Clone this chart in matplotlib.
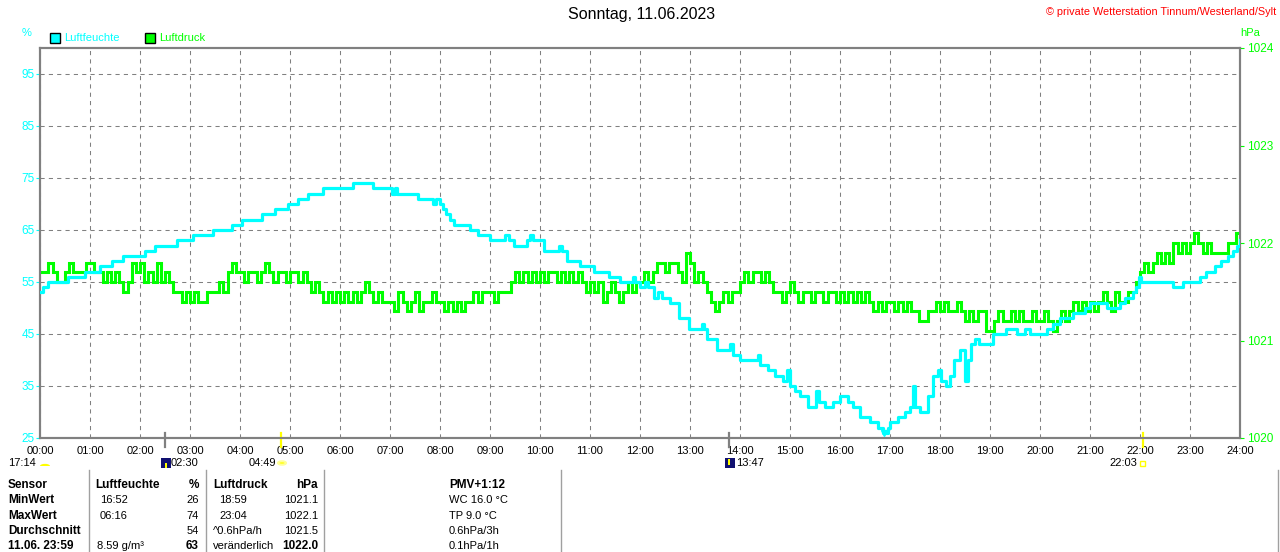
import matplotlib
matplotlib.use('Agg')
import matplotlib.pyplot as plt
from matplotlib.patches import Rectangle, Circle, Wedge
from matplotlib.lines import Line2D

plt.rcParams['font.family'] = ['Liberation Sans', 'DejaVu Sans']

# ---------------- data ----------------
title = 'Sonntag, 11.06.2023'
copyright_text = '© private Wetterstation Tinnum/Westerland/Sylt'
x_labels = ['%02d:00' % h for h in range(25)]
hum_ticks = [25, 35, 45, 55, 65, 75, 85, 95]
press_ticks = [1020, 1021, 1022, 1023, 1024]

# humidity (%) : change points (hour, value)
hum_t = [0.00, 0.05, 0.15, 0.56, 0.90, 1.20, 1.44, 1.66, 2.10, 2.30, 2.74, 3.06,
         3.46, 3.84, 4.04, 4.44, 4.70, 4.96, 5.16, 5.36, 5.66, 6.26, 6.66, 7.04,
         7.10, 7.14, 7.56, 7.86, 7.92, 8.00, 8.06, 8.12, 8.20, 8.27, 8.60, 8.75,
         9.00, 9.30, 9.38, 9.47, 9.74, 9.80, 9.86, 10.07, 10.38, 10.44, 10.53, 10.80,
         11.07, 11.38, 11.60, 11.85, 11.90, 12.00, 12.10, 12.16, 12.27, 12.36, 12.44, 12.60,
         12.77, 12.97, 13.24, 13.28, 13.33, 13.53, 13.80, 13.85, 14.00, 14.36, 14.40, 14.55,
         14.70, 14.85, 14.93, 15.00, 15.10, 15.20, 15.35, 15.52, 15.58, 15.70, 15.85, 16.00,
         16.16, 16.26, 16.40, 16.60, 16.76, 16.86, 16.96, 17.00, 17.16, 17.30, 17.40, 17.46,
         17.50, 17.60, 17.76, 17.86, 17.96, 18.02, 18.12, 18.20, 18.27, 18.40, 18.50, 18.56,
         18.62, 18.70, 18.78, 19.06, 19.33, 19.53, 19.70, 19.80, 20.13, 20.25, 20.40, 20.66,
         20.90, 21.00, 21.33, 21.60, 21.70, 21.86, 21.92, 21.97, 22.02, 22.66, 22.86, 23.20,
         23.32, 23.50, 23.62, 23.76, 23.86, 23.94, 24.00]
hum_v = [53, 54, 55, 56, 57, 58, 59, 60, 61, 62, 63, 64,
         65, 66, 67, 68, 69, 70, 71, 72, 73, 74, 73, 72,
         73, 72, 71, 70, 71, 70, 69, 68, 67, 66, 65, 64,
         63, 64, 63, 62, 63, 64, 63, 61, 62, 61, 59, 58,
         57, 56, 55, 56, 55, 54, 55, 54, 52, 53, 52, 51,
         48, 46, 47, 46, 44, 42, 43, 41, 40, 41, 39, 38,
         37, 36, 38, 35, 34, 33, 31, 34, 32, 31, 32, 33,
         32, 31, 29, 28, 27, 26, 27, 28, 29, 30, 31, 35,
         31, 30, 33, 37, 38, 36, 35, 37, 40, 42, 36, 40,
         43, 44, 43, 45, 46, 45, 46, 45, 46, 47, 48, 49,
         50, 51, 50, 51, 52, 53, 54, 56, 55, 54, 55, 56,
         57, 58, 59, 60, 61, 62, 63]

# air pressure (hPa), one row per hour, values every 5 minutes
press_rows = [
    [1021.7, 1021.7, 1021.8, 1021.7, 1021.6, 1021.6, 1021.7, 1021.8, 1021.7, 1021.7, 1021.7, 1021.8],
    [1021.8, 1021.7, 1021.7, 1021.6, 1021.7, 1021.6, 1021.7, 1021.6, 1021.5, 1021.6, 1021.8, 1021.7],
    [1021.8, 1021.6, 1021.7, 1021.6, 1021.8, 1021.6, 1021.7, 1021.6, 1021.5, 1021.5, 1021.4, 1021.5],
    [1021.4, 1021.5, 1021.4, 1021.4, 1021.5, 1021.5, 1021.5, 1021.6, 1021.5, 1021.7, 1021.8, 1021.7],
    [1021.7, 1021.6, 1021.7, 1021.7, 1021.6, 1021.7, 1021.8, 1021.7, 1021.6, 1021.7, 1021.7, 1021.6],
    [1021.7, 1021.7, 1021.6, 1021.7, 1021.6, 1021.5, 1021.6, 1021.5, 1021.4, 1021.5, 1021.4, 1021.5],
    [1021.4, 1021.5, 1021.4, 1021.5, 1021.4, 1021.5, 1021.6, 1021.5, 1021.4, 1021.5, 1021.4, 1021.4],
    [1021.4, 1021.3, 1021.5, 1021.4, 1021.3, 1021.4, 1021.5, 1021.3, 1021.4, 1021.4, 1021.5, 1021.4],
    [1021.4, 1021.3, 1021.4, 1021.3, 1021.4, 1021.3, 1021.4, 1021.4, 1021.5, 1021.4, 1021.5, 1021.5],
    [1021.5, 1021.4, 1021.5, 1021.5, 1021.5, 1021.6, 1021.7, 1021.6, 1021.7, 1021.6, 1021.7, 1021.6],
    [1021.7, 1021.6, 1021.7, 1021.7, 1021.6, 1021.7, 1021.6, 1021.7, 1021.6, 1021.7, 1021.6, 1021.5],
    [1021.6, 1021.5, 1021.6, 1021.4, 1021.5, 1021.6, 1021.5, 1021.4, 1021.5, 1021.6, 1021.5, 1021.6],
    [1021.6, 1021.7, 1021.6, 1021.7, 1021.8, 1021.8, 1021.7, 1021.8, 1021.8, 1021.7, 1021.6, 1021.9],
    [1021.8, 1021.6, 1021.7, 1021.6, 1021.5, 1021.4, 1021.3, 1021.4, 1021.5, 1021.4, 1021.5, 1021.5],
    [1021.6, 1021.7, 1021.6, 1021.7, 1021.7, 1021.6, 1021.7, 1021.6, 1021.5, 1021.5, 1021.4, 1021.5],
    [1021.6, 1021.5, 1021.4, 1021.5, 1021.5, 1021.4, 1021.5, 1021.5, 1021.4, 1021.5, 1021.5, 1021.4],
    [1021.5, 1021.4, 1021.5, 1021.4, 1021.5, 1021.4, 1021.5, 1021.4, 1021.3, 1021.4, 1021.3, 1021.4],
    [1021.4, 1021.3, 1021.4, 1021.3, 1021.4, 1021.3, 1021.3, 1021.2, 1021.2, 1021.3, 1021.3, 1021.4],
    [1021.3, 1021.4, 1021.3, 1021.3, 1021.4, 1021.3, 1021.2, 1021.3, 1021.2, 1021.3, 1021.3, 1021.1],
    [1021.1, 1021.2, 1021.3, 1021.2, 1021.2, 1021.3, 1021.2, 1021.3, 1021.2, 1021.2, 1021.3, 1021.2],
    [1021.2, 1021.3, 1021.2, 1021.1, 1021.2, 1021.3, 1021.2, 1021.3, 1021.4, 1021.3, 1021.4, 1021.3],
    [1021.4, 1021.3, 1021.4, 1021.5, 1021.4, 1021.3, 1021.5, 1021.4, 1021.4, 1021.5, 1021.5, 1021.6],
    [1021.7, 1021.8, 1021.7, 1021.8, 1021.9, 1021.8, 1021.9, 1021.8, 1022.0, 1021.9, 1022.0, 1021.9],
    [1022.0, 1022.1, 1022.0, 1021.9, 1022.0, 1021.9, 1021.9, 1021.9, 1021.9, 1022.0, 1022.0, 1022.1],
]
press_last = 1022.0

# table below the chart
table_header = ['Sensor', 'Luftfeuchte', '%', 'Luftdruck', 'hPa', 'PMV+1:12']
table_rows = [
    ['MinWert', '16:52', '26', '18:59', '1021.1', 'WC 16.0 °C'],
    ['MaxWert', '06:16', '74', '23:04', '1022.1', 'TP 9.0 °C'],
    ['Durchschnitt', '', '54', '^0.6hPa/h', '1021.5', '0.6hPa/3h'],
    ['11.06. 23:59', '8.59 g/m³', '63', 'veränderlich', '1022.0', '0.1hPa/1h'],
]
astro_labels = ['17:14', '02:30', '04:49', '13:47', '22:03']

# ---------------- figure ----------------
W, H = 1280, 552
CYAN = '#00FFFF'
GREEN = '#00FF00'
GRAY = '#808080'


def fx(x):
    return x / W


def fy(y):
    return 1 - y / H


fig = plt.figure(figsize=(12.8, 5.52), dpi=100)
fig.patch.set_facecolor('white')

ax = fig.add_axes([fx(40), fy(438), 1200 / W, 390 / H])
ax.set_xlim(0, 24)
ax.set_ylim(25, 100)
ax.set_xticks(range(25))
ax.set_xticklabels(x_labels, fontsize=8)
ax.set_yticks(hum_ticks)
ax.set_yticklabels([str(v) for v in hum_ticks], fontsize=8.5, color=CYAN)
ax.grid(True, color=GRAY, lw=0.75, ls=(0, (4, 4)))
ax.tick_params(axis='x', length=0, pad=6, colors='black')
ax.tick_params(axis='y', length=3, width=0.8, pad=1, color=CYAN, labelcolor=CYAN)
for s in ax.spines.values():
    s.set_color(GRAY)
    s.set_linewidth(1.5)

ax2 = ax.twinx()
ax2.set_ylim(1020, 1024)
ax2.set_yticks(press_ticks)
ax2.set_yticklabels([str(v) for v in press_ticks], fontsize=8.5, color=GREEN)
ax2.tick_params(axis='y', length=3, width=0.8, pad=2, color=GREEN, labelcolor=GREEN)
for s in ax2.spines.values():
    s.set_color(GRAY)
    s.set_linewidth(1.5)

press_vals = [v for row in press_rows for v in row] + [press_last]
press_t = [i * 5 / 60 for i in range(len(press_vals))]
ax2.step(press_t, press_vals, where='post', color=GREEN, lw=2.2, solid_joinstyle='miter')

ax3 = ax.twinx()
ax3.set_ylim(25, 100)
ax3.axis('off')
ax3.step(hum_t, hum_v, where='post', color=CYAN, lw=2.3)

# markers on the bottom axis line
xt = ax.get_xaxis_transform()
for t, c in [(2.5, GRAY), (13.78, GRAY), (4.82, '#FFFF00'), (22.05, '#FFFF00')]:
    ax.plot([t, t], [0.013, -0.023], color=c, lw=1.6, transform=xt, clip_on=False, zorder=5)
ax3.plot([16.87], [26.0], marker='v', color=CYAN, ms=4, clip_on=False)

# titles
fig.text(fx(642), fy(15), title, fontsize=11.5, ha='center', va='center', color='black')
fig.text(fx(1276), fy(12), copyright_text, fontsize=7.8, ha='right', va='center', color='red')
fig.text(fx(27), fy(33), '%', fontsize=8, ha='center', va='center', color=CYAN)
fig.text(fx(1250), fy(33), 'hPa', fontsize=8, ha='center', va='center', color=GREEN)

# legend
fig.add_artist(Rectangle((fx(50), fy(43)), 10 / W, 10 / H, transform=fig.transFigure,
                         facecolor=CYAN, edgecolor='black', lw=1))
fig.text(fx(64), fy(38), 'Luftfeuchte', fontsize=8, ha='left', va='center', color=CYAN)
fig.add_artist(Rectangle((fx(145), fy(43)), 10 / W, 10 / H, transform=fig.transFigure,
                         facecolor=GREEN, edgecolor='black', lw=1))
fig.text(fx(159), fy(38), 'Luftdruck', fontsize=8, ha='left', va='center', color=GREEN)

# astro row
ay = 463
fig.text(fx(8), fy(ay), astro_labels[0], fontsize=8, ha='left', va='center')
fig.add_artist(Wedge((fx(45), fy(466)), 5 / W, 0, 180, transform=fig.transFigure,
                     facecolor='#FFFF00', edgecolor='none'))
fig.add_artist(Rectangle((fx(161), fy(468)), 10 / W, 10 / H, transform=fig.transFigure,
                         facecolor='#101070', edgecolor='none'))
fig.add_artist(Rectangle((fx(165), fy(468)), 2 / W, 5 / H, transform=fig.transFigure,
                         facecolor='#FFFF00', edgecolor='none'))
fig.text(fx(171), fy(ay), astro_labels[1], fontsize=8, ha='left', va='center')
fig.text(fx(249), fy(ay), astro_labels[2], fontsize=8, ha='left', va='center')
fig.add_artist(Circle((fx(282), fy(463)), 4 / W, transform=fig.transFigure,
                      facecolor='#FFFF00', edgecolor='#FFFF99', lw=1.5))
fig.add_artist(Rectangle((fx(725), fy(468)), 10 / W, 10 / H, transform=fig.transFigure,
                         facecolor='#101070', edgecolor='none'))
fig.add_artist(Rectangle((fx(728), fy(465)), 2 / W, 6 / H, transform=fig.transFigure,
                         facecolor='#FFFF00', edgecolor='none'))
fig.text(fx(736), fy(ay), astro_labels[3], fontsize=8, ha='left', va='center')
fig.text(fx(1109), fy(ay), astro_labels[4], fontsize=8, ha='left', va='center')
fig.add_artist(Rectangle((fx(1140), fy(466)), 5 / W, 5 / H, transform=fig.transFigure,
                         facecolor='none', edgecolor='#FFFF00', lw=1))

# table separators
for sx in [89, 206, 324, 561, 1278]:
    fig.add_artist(Line2D([fx(sx), fx(sx)], [fy(470), fy(552)], color='#A0A0A0', lw=1))

# table text
row_y = [485, 500, 516, 531, 546]
fs = 8.5
fig.text(fx(8), fy(row_y[0]), table_header[0], fontsize=fs, weight='bold', va='center')
fig.text(fx(95), fy(row_y[0]), table_header[1], fontsize=fs, weight='bold', va='center')
fig.text(fx(199), fy(row_y[0]), table_header[2], fontsize=fs, weight='bold', va='center', ha='right')
fig.text(fx(213), fy(row_y[0]), table_header[3], fontsize=fs, weight='bold', va='center')
fig.text(fx(318), fy(row_y[0]), table_header[4], fontsize=fs, weight='bold', va='center', ha='right')
fig.text(fx(449), fy(row_y[0]), table_header[5], fontsize=fs, weight='bold', va='center')

for i, row in enumerate(table_rows):
    y = fy(row_y[i + 1])
    last = (i == len(table_rows) - 1)
    fig.text(fx(8), y, row[0], fontsize=fs, weight='bold', va='center')
    fig.text(fx(97 if last else 100), y, row[1], fontsize=8, va='center')
    fig.text(fx(199), y, row[2], fontsize=fs if last else 8, weight='bold' if last else 'normal',
             va='center', ha='right')
    fig.text(fx(213 if i >= 2 else 219), y, row[3], fontsize=8, va='center')
    fig.text(fx(318), y, row[4], fontsize=fs if last else 8, weight='bold' if last else 'normal',
             va='center', ha='right')
    fig.text(fx(449), y, row[5], fontsize=8, va='center')

fig.savefig('out.png', dpi=100)
